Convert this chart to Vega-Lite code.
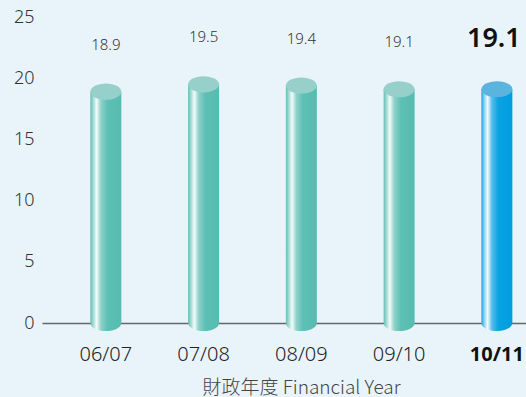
{
  "$schema": "https://vega.github.io/schema/vega-lite/v6.json",
  "width": 484,
  "height": 306,
  "autosize": {"type": "none"},
  "padding": {"left": 42, "top": 17, "right": 0, "bottom": 74},
  "background": "#e9f4fa",
  "config": {"view": {"stroke": null}, "font": "Noto Sans"},
  "data": {"values": [
    {"year": "06/07", "value": 18.9},
    {"year": "07/08", "value": 19.5},
    {"year": "08/09", "value": 19.4},
    {"year": "09/10", "value": 19.1},
    {"year": "10/11", "value": 19.1}
  ]},
  "encoding": {
    "x": {
      "field": "year", "type": "ordinal", "sort": null,
      "scale": {"paddingInner": 0.683, "paddingOuter": 0.317, "align": 0.78},
      "axis": {
        "title": "財政年度 Financial Year",
        "titleFont": "Noto Sans CJK TC", "titleFontSize": 19, "titleFontWeight": 300, "titleColor": "#444",
        "titleX": 259, "titleY": 70, "titleAnchor": "middle", "titleBaseline": "alphabetic",
        "labelAngle": 0, "labelFontSize": 20, "labelColor": {"condition": {"test": "datum.value === '10/11'", "value": "#111"}, "value": "#222"},
        "labelFontWeight": {"condition": {"test": "datum.value === '10/11'", "value": "bold"}, "value": 350},
        "labelPadding": 21, "ticks": false,
        "domainColor": "#666", "domainWidth": 1.5, "grid": false
      }
    }
  },
  "layer": [
    {
      "mark": {"type": "bar"},
      "encoding": {
        "y": {"field": "value", "type": "quantitative",
          "scale": {"domain": [0, 25], "nice": false},
          "axis": {"title": null, "values": [0, 5, 10, 15, 20, 25], "grid": false, "domain": false, "ticks": false,
            "labelPadding": 8, "labelFontSize": 18, "labelFontWeight": 300, "labelColor": "#333"}},
        "fill": {
          "condition": {"test": "datum.year === '10/11'", "value": {"gradient": "linear", "x1": 0, "x2": 1, "y1": 0, "y2": 0,
            "stops": [{"offset": 0, "color": "#1aa5e0"}, {"offset": 0.1, "color": "#8fd3f2"}, {"offset": 0.2, "color": "#f4fbfe"}, {"offset": 0.34, "color": "#55bdeb"}, {"offset": 0.55, "color": "#0aa2e2"}, {"offset": 1, "color": "#009ee0"}]}},
          "value": {"gradient": "linear", "x1": 0, "x2": 1, "y1": 0, "y2": 0,
            "stops": [{"offset": 0, "color": "#5fbfb4"}, {"offset": 0.1, "color": "#a8dcd6"}, {"offset": 0.2, "color": "#f4fbfa"}, {"offset": 0.34, "color": "#8fd2ca"}, {"offset": 0.55, "color": "#5ec0b5"}, {"offset": 1, "color": "#56bbb0"}]}
        }
      }
    },
    {
      "mark": {"type": "point", "filled": true, "opacity": 1, "strokeWidth": 0,
        "shape": "M -1 0 A 1 0.52 0 0 0 1 0 Z", "size": 961},
      "encoding": {
        "y": {"datum": 0},
        "fill": {
          "condition": {"test": "datum.year === '10/11'", "value": {"gradient": "linear", "x1": 0, "x2": 1, "y1": 0, "y2": 0,
            "stops": [{"offset": 0, "color": "#1aa5e0"}, {"offset": 0.1, "color": "#8fd3f2"}, {"offset": 0.2, "color": "#f4fbfe"}, {"offset": 0.34, "color": "#55bdeb"}, {"offset": 0.55, "color": "#0aa2e2"}, {"offset": 1, "color": "#009ee0"}]}},
          "value": {"gradient": "linear", "x1": 0, "x2": 1, "y1": 0, "y2": 0,
            "stops": [{"offset": 0, "color": "#5fbfb4"}, {"offset": 0.1, "color": "#a8dcd6"}, {"offset": 0.2, "color": "#f4fbfa"}, {"offset": 0.34, "color": "#8fd2ca"}, {"offset": 0.55, "color": "#5ec0b5"}, {"offset": 1, "color": "#56bbb0"}]}
        }
      }
    },
    {
      "mark": {"type": "point", "filled": true, "opacity": 1, "strokeWidth": 0,
        "shape": "M -1 0 A 1 0.52 0 1 1 1 0 A 1 0.52 0 1 1 -1 0 Z", "size": 961},
      "encoding": {
        "y": {"field": "value", "type": "quantitative"},
        "fill": {"condition": {"test": "datum.year === '10/11'", "value": "#5ab4de"}, "value": "#97cfca"}
      }
    },
    {
      "transform": [{"filter": "datum.year !== '10/11'"}],
      "mark": {"type": "text", "fontSize": 15, "fontWeight": 300, "color": "#333", "baseline": "alphabetic", "dy": -42},
      "encoding": {
        "y": {"field": "value", "type": "quantitative"},
        "text": {"field": "value", "type": "quantitative", "format": ".1f"}
      }
    },
    {
      "transform": [{"filter": "datum.year === '10/11'"}],
      "mark": {"type": "text", "fontSize": 27, "fontWeight": 600, "color": "#111", "baseline": "alphabetic", "dx": -3, "dy": -42},
      "encoding": {
        "y": {"field": "value", "type": "quantitative"},
        "text": {"field": "value", "type": "quantitative", "format": ".1f"}
      }
    }
  ]
}
